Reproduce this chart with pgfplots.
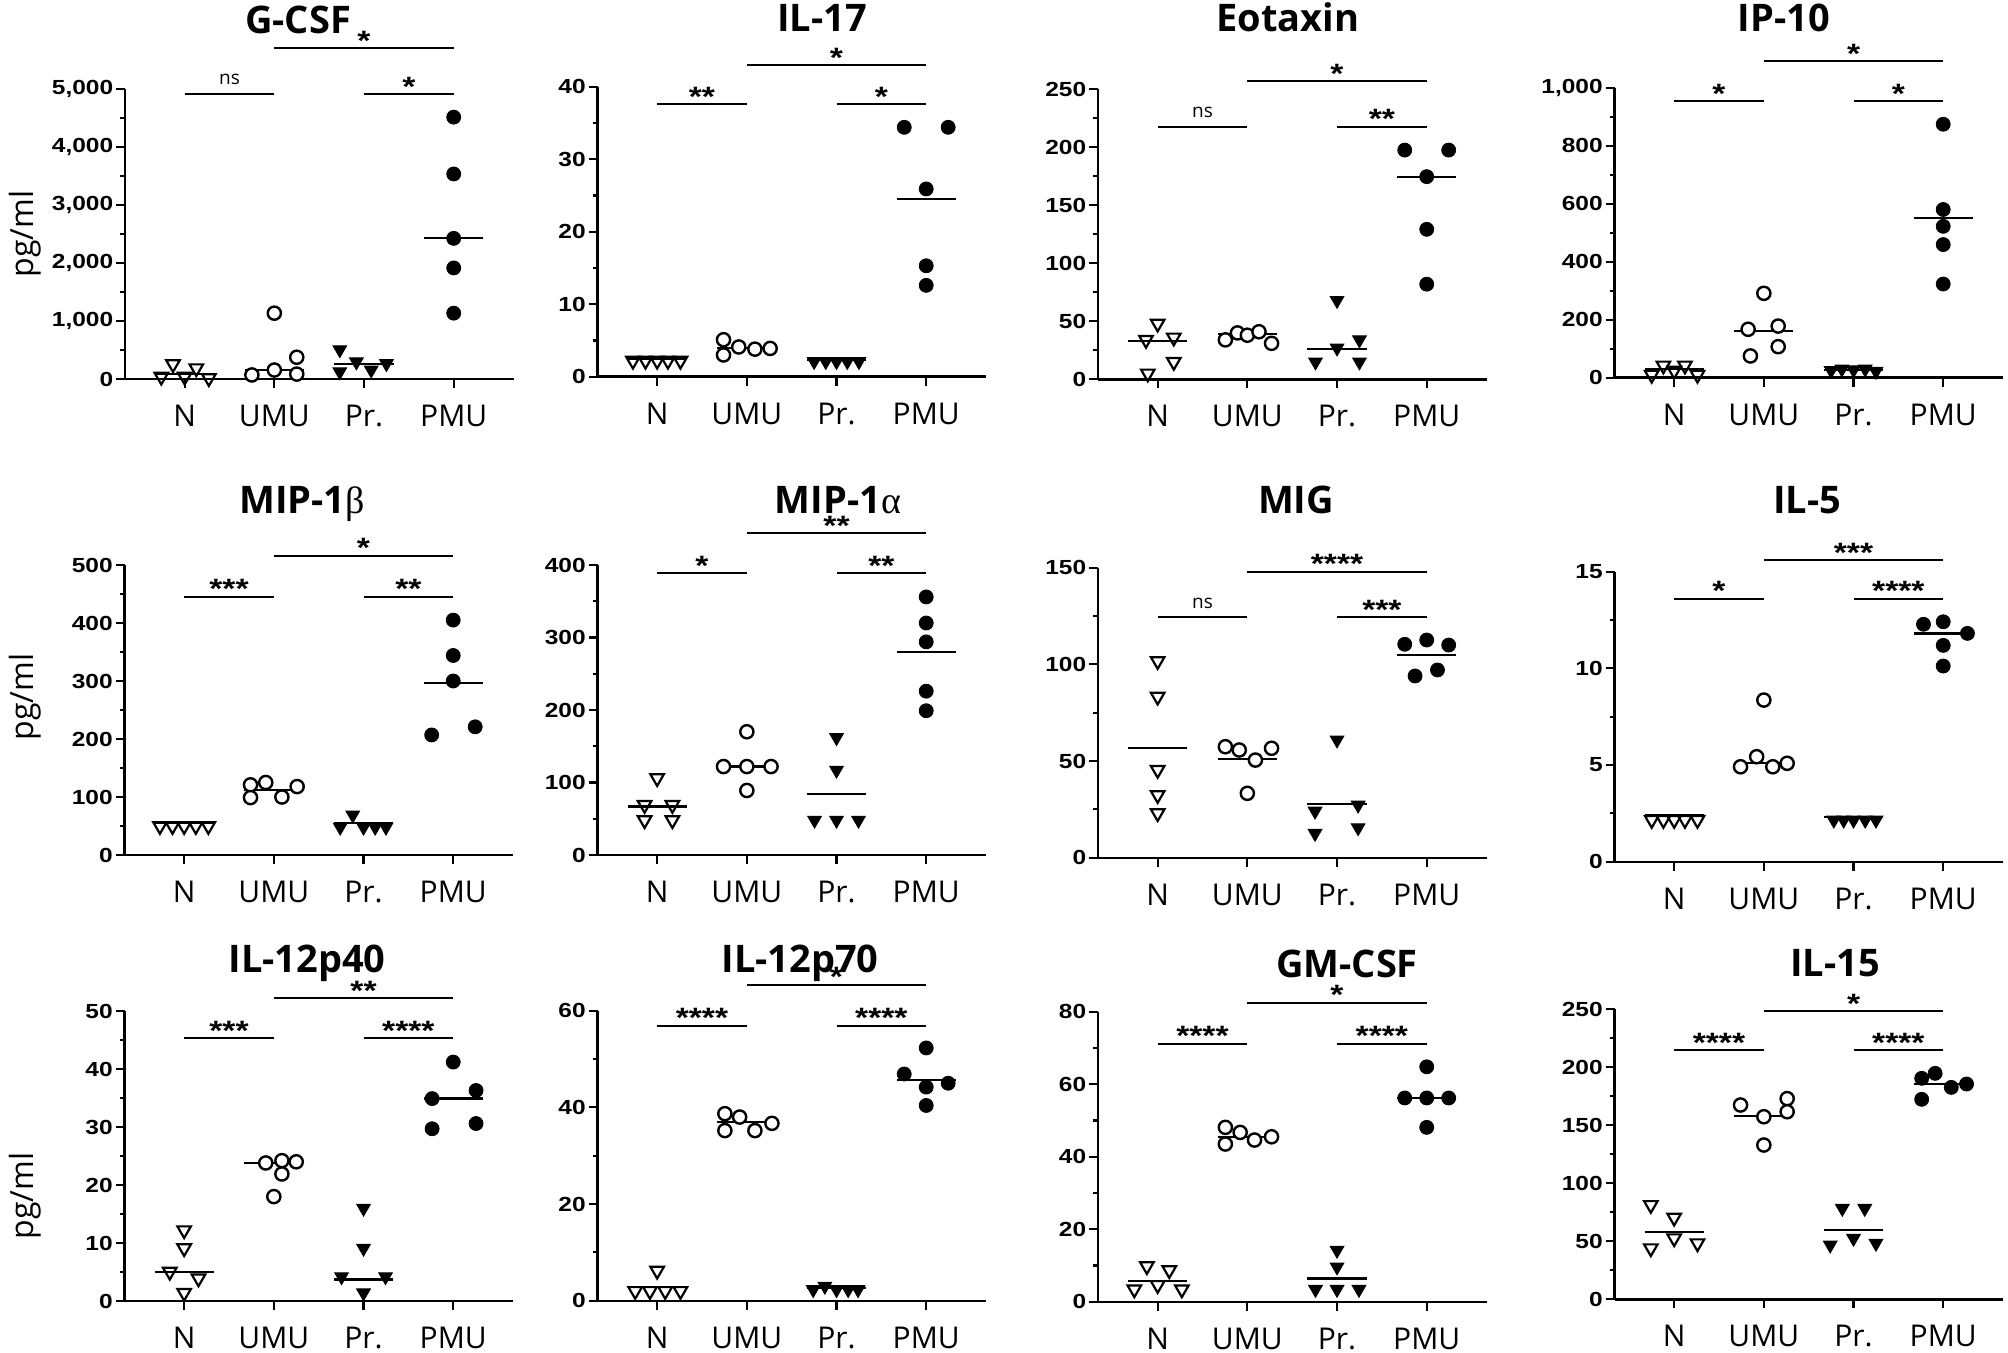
\documentclass[border=0pt]{standalone}
\usepackage{fontspec}
\setmainfont{Open Sans}
\newfontfamily\tickfont{Liberation Sans}[FakeStretch=1.2]
\newfontfamily\greekfont{Liberation Serif}
\usepackage{pgfplots}
\pgfplotsset{compat=1.18}

\pgfplotsset{
  panel/.style={
    anchor=south west, scale only axis, width=194.4pt, height=145pt,
    xmin=0.335, xmax=4.67, ymin=0, enlargelimits=false,
    axis lines=left, axis line style={line width=1.2pt, -},
    tick align=outside, tick style={black, line width=1.1pt},
    major tick length=4.5pt, minor tick length=2.5pt,
    xtick={1,2,3,4}, xticklabels={N,UMU,Pr.,PMU},
    xticklabel style={font=\fontsize{15}{15}\selectfont, anchor=base, yshift=-19.3pt},
    minor y tick num=1,
    yticklabel style={font=\tickfont\bfseries\fontsize{10.2}{10}\selectfont, inner sep=1.2pt},
    /pgf/number format/assume math mode=true,
    scaled y ticks=false,
    clip=false,
  },
  gN/.style={only marks, mark=triangle, mark size=3.9pt, mark options={rotate=180, fill=white, draw=black, line width=1.1pt}},
  gU/.style={only marks, mark=*, mark size=3.3pt, mark options={fill=white, draw=black, line width=1.2pt}},
  gP/.style={only marks, mark=triangle*, mark size=3.9pt, mark options={rotate=180, fill=black, draw=black, line width=0.5pt}},
  gM/.style={only marks, mark=*, mark size=3.5pt, mark options={fill=black, draw=black}},
  med/.style={no marks, black, line width=1.1pt},
}

\newcommand{\meds}[4]{%
  \addplot[med] coordinates {(0.67,#1) (1.33,#1)};
  \addplot[med] coordinates {(1.67,#2) (2.33,#2)};
  \addplot[med] coordinates {(2.67,#3) (3.33,#3)};
  \addplot[med] coordinates {(3.67,#4) (4.33,#4)};}
\newcommand{\sig}[4]{\draw[line width=1pt] (axis cs:#1,#3) -- (axis cs:#2,#3) node[midway, anchor=base, inner sep=0pt, yshift=-1pt, font=\tickfont\bfseries\fontsize{14}{14}\selectfont] {#4};}
\newcommand{\ns}[3]{\draw[line width=1pt] (axis cs:#1,#3) -- (axis cs:#2,#3) node[midway, anchor=base, inner sep=0pt, yshift=4.5pt, font=\fontsize{9.5}{9.5}\selectfont] {ns};}

\begin{document}
\begin{tikzpicture}
\useasboundingbox (0,0) rectangle (1004pt,-676.5pt);

% ---------- Row 1 ----------
\begin{axis}[panel, at={(62.5pt,-189.65pt)}, ymax=5000, ytick={0,1000,...,5000}]
\addplot[gN] coordinates {(0.74,45) (0.87,260) (1.0,45) (1.13,190) (1.27,20)};
\addplot[gU] coordinates {(1.75,75) (2,160) (2,1140) (2.25,90) (2.25,380)};
\addplot[gP] coordinates {(2.73,510) (2.73,130) (2.915,300) (3.08,160) (3.25,270)};
\addplot[gM] coordinates {(4,4520) (4,3540) (4,2430) (4,1920) (4,1140)};
\meds{90}{160}{270}{2440}
\ns{1}{2}{4919}
\sig{3}{4}{4919}{*}
\sig{2}{4}{5712}{*}
\end{axis}

\begin{axis}[panel, at={(298.75pt,-188.35pt)}, ymax=40, ytick={0,10,...,40}]
\addplot[gN] coordinates {(0.73,2.2) (0.87,2.2) (1,2.2) (1.12,2.2) (1.26,2.2)};
\addplot[gU] coordinates {(1.74,5.1) (1.74,3.0) (1.91,4.1) (2.09,3.8) (2.26,3.9)};
\addplot[gP] coordinates {(2.75,2.1) (2.88,2.1) (3,2.1) (3.12,2.1) (3.25,2.1)};
\addplot[gM] coordinates {(3.755,34.4) (4.245,34.4) (4,25.9) (4,15.3) (4,12.6)};
\meds{2.5}{3.95}{2.3}{24.5}
\sig{1}{2}{37.57}{**}
\sig{3}{4}{37.57}{*}
\sig{2}{4}{42.98}{*}
\end{axis}

\begin{axis}[panel, at={(549pt,-189.65pt)}, ymax=250, ytick={0,50,...,250}]
\addplot[gN] coordinates {(1.0,48) (0.87,34) (1.18,36) (1.18,15) (0.89,5)};
\addplot[gU] coordinates {(1.755,34) (1.89,40) (2,38) (2.13,41) (2.27,31)};
\addplot[gP] coordinates {(3,68) (3,27) (2.76,15) (3.25,34) (3.25,15)};
\addplot[gM] coordinates {(3.755,197.6) (4.245,197.6) (4,174.7) (4,129.3) (4,82)};
\meds{33}{39}{26}{174.7}
\ns{1}{2}{217.7}
\sig{3}{4}{217.7}{**}
\sig{2}{4}{257.1}{*}
\end{axis}

\begin{axis}[panel, at={(807.25pt,-188.85pt)}, ymax=1000, ytick={0,200,...,1000}]
\addplot[gN] coordinates {(0.75,10) (0.88,42) (1,24) (1.12,42) (1.26,10)};
\addplot[gU] coordinates {(2,291) (1.825,167) (2.16,178) (2.16,107) (1.85,75)};
\addplot[gP] coordinates {(2.75,25) (2.87,30) (3,27) (3.13,30) (3.25,22)};
\addplot[gM] coordinates {(4,874) (4,580) (4,522) (4,459) (4,323)};
\meds{29}{162}{27}{551}
\sig{1}{2}{954}{*}
\sig{3}{4}{954}{*}
\sig{2}{4}{1092}{*}
\end{axis}

% ---------- Row 2 ----------
\begin{axis}[panel, at={(62.25pt,-427.5pt)}, ymax=500, ytick={0,100,...,500}]
\addplot[gN] coordinates {(0.73,50) (0.87,50) (1,50) (1.13,50) (1.27,50)};
\addplot[gU] coordinates {(1.74,121) (1.91,125) (1.74,99) (2.09,100) (2.26,118)};
\addplot[gP] coordinates {(2.88,69) (2.74,48) (3.0,48) (3.13,48) (3.25,48)};
\addplot[gM] coordinates {(4,405) (4,344) (4,300) (3.76,207) (4.245,221)};
\meds{56}{112}{55}{297}
\sig{1}{2}{445.3}{***}
\sig{3}{4}{445.3}{**}
\sig{2}{4}{516}{*}
\end{axis}

\begin{axis}[panel, at={(298.75pt,-427.5pt)}, ymax=400, ytick={0,100,...,400}]
\addplot[gN] coordinates {(1,106) (0.86,69) (1.17,69) (0.86,48) (1.17,48)};
\addplot[gU] coordinates {(2,170) (1.74,122) (2,122) (2.27,122) (2,89)};
\addplot[gP] coordinates {(3,162) (3,117) (2.755,48) (3,48) (3.245,48)};
\addplot[gM] coordinates {(4,356) (4,320) (4,294) (4,226) (4,199)};
\meds{67}{122}{84}{280}
\sig{1}{2}{388.5}{*}
\sig{3}{4}{388.5}{**}
\sig{2}{4}{443.6}{**}
\end{axis}

\begin{axis}[panel, at={(549pt,-428.85pt)}, ymax=150, ytick={0,50,...,150}]
\addplot[gN] coordinates {(1,101.7) (1,83.3) (1,45.4) (1,32.4) (1,23)};
\addplot[gU] coordinates {(1.755,57.4) (1.91,55.7) (2.09,50.5) (2.27,56.6) (2,33.3)};
\addplot[gP] coordinates {(3,60.9) (2.755,24.1) (3.235,27.2) (2.755,12.6) (3.235,15.5)};
\addplot[gM] coordinates {(3.755,110.4) (4,112.6) (4.245,110) (3.87,94) (4.12,97.1)};
\meds{56.6}{51}{27.6}{104.8}
\ns{1}{2}{124.5}
\sig{3}{4}{124.5}{***}
\sig{2}{4}{147.9}{****}
\end{axis}

\begin{axis}[panel, at={(807.25pt,-430.85pt)}, ymax=15, ytick={0,5,10,15}]
\addplot[gN] coordinates {(0.75,2.16) (0.88,2.16) (1,2.16) (1.12,2.16) (1.26,2.16)};
\addplot[gU] coordinates {(2,8.36) (1.74,4.91) (1.92,5.43) (2.1,4.91) (2.26,5.09)};
\addplot[gP] coordinates {(2.78,2.15) (2.89,2.15) (3,2.15) (3.13,2.15) (3.25,2.15)};
\addplot[gM] coordinates {(3.78,12.28) (4,12.41) (4.27,11.81) (4,11.19) (4,10.12)};
\meds{2.4}{5.1}{2.3}{11.8}
\sig{1}{2}{13.59}{*}
\sig{3}{4}{13.59}{****}
\sig{2}{4}{15.6}{***}
\end{axis}

% ---------- Row 3 ----------
\begin{axis}[panel, at={(62.25pt,-650.5pt)}, ymax=50, ytick={0,10,...,50}]
\addplot[gN] coordinates {(1,12.2) (1,9.1) (0.84,5.05) (1.16,3.9) (1,1.4)};
\addplot[gU] coordinates {(1.91,23.8) (2.09,24.2) (2.25,24.0) (2.09,21.9) (2,18.0)};
\addplot[gP] coordinates {(3,16) (3,9.1) (2.755,4.2) (3.245,4.2) (3,1.4)};
\addplot[gM] coordinates {(4,41.2) (3.765,34.9) (4.255,36.3) (3.765,29.7) (4.255,30.6)};
\meds{5.05}{23.8}{3.7}{34.9}
\sig{1}{2}{45.34}{***}
\sig{3}{4}{45.34}{****}
\sig{2}{4}{52.23}{**}
\end{axis}

\begin{axis}[panel, at={(298.75pt,-650.35pt)}, ymax=60, ytick={0,20,...,60}]
\addplot[gN] coordinates {(1,6.2) (0.755,2.0) (0.92,2.0) (1.09,2.0) (1.26,2.0)};
\addplot[gU] coordinates {(1.755,38.7) (1.92,38.0) (1.755,35.2) (2.09,35.2) (2.28,36.7)};
\addplot[gP] coordinates {(2.74,2.3) (2.87,3.0) (3,2.3) (3.13,2.3) (3.24,2.3)};
\addplot[gM] coordinates {(4,52.3) (3.755,46.9) (4.245,45.0) (4,44.2) (4,40.4)};
\meds{2.9}{36.9}{2.6}{45.7}
\sig{1}{2}{56.9}{****}
\sig{3}{4}{56.9}{****}
\sig{2}{4}{65.4}{*}
\end{axis}

\begin{axis}[panel, at={(549pt,-650.85pt)}, ymax=80, ytick={0,20,...,80}]
\addplot[gN] coordinates {(0.88,9.8) (1.13,8.7) (0.74,3.4) (1.0,4.6) (1.27,3.4)};
\addplot[gU] coordinates {(1.755,48.1) (1.92,46.7) (1.755,43.5) (2.08,44.6) (2.27,45.5)};
\addplot[gP] coordinates {(3,14.2) (3,9.6) (2.76,3.4) (3,3.4) (3.245,3.4)};
\addplot[gM] coordinates {(4,64.8) (3.755,56.2) (4,56.2) (4.245,56.2) (4,48.1)};
\meds{5.8}{45.5}{6.4}{56.2}
\sig{1}{2}{71.2}{****}
\sig{3}{4}{71.2}{****}
\sig{2}{4}{82.5}{*}
\end{axis}

\begin{axis}[panel, at={(807.25pt,-649.65pt)}, ymax=250, ytick={0,50,...,250}]
\addplot[gN] coordinates {(0.74,81.3) (1.0,70.4) (1.0,52.6) (0.74,44.0) (1.26,48.3)};
\addplot[gU] coordinates {(1.74,167.5) (2.26,173) (2,157.4) (2.26,161.7) (2,133)};
\addplot[gP] coordinates {(2.875,78.4) (3.125,78.4) (2.74,46.8) (3,52.6) (3.25,48.3)};
\addplot[gM] coordinates {(3.76,190.5) (3.91,194.8) (3.76,172.4) (4.09,182.7) (4.26,185.6)};
\meds{58.3}{158}{59.7}{185.6}
\sig{1}{2}{214.9}{****}
\sig{3}{4}{214.9}{****}
\sig{2}{4}{248.5}{*}
\end{axis}

% ---------- Titles and y labels ----------
\begin{scope}[x=0.5pt, y=-0.5pt]
\tikzset{ttl/.style={anchor=base, inner sep=0pt, font=\bfseries\fontsize{19}{19}\selectfont},
         yl/.style={rotate=90, anchor=center, inner sep=0pt, font=\fontsize{16}{16}\selectfont}}
\node[ttl] at (298,33.5) {G-CSF};
\node[ttl] at (822,31.5) {IL-17};
\node[ttl] at (1288,31.5) {Eotaxin};
\node[ttl] at (1784,31.5) {IP-10};
\node[ttl] at (302,513.5) {MIP-1{\greekfont\mdseries β}};
\node[ttl] at (838,513.5) {MIP-1{\greekfont\mdseries α}};
\node[ttl] at (1296,513.5) {MIG};
\node[ttl] at (1807,513.5) {IL-5};
\node[ttl] at (307,972.5) {IL-12p40};
\node[ttl] at (800,972.5) {IL-12p70};
\node[ttl] at (1347,977.5) {GM-CSF};
\node[ttl] at (1835,976.5) {IL-15};
\node[yl] at (25,234) {pg/ml};
\node[yl] at (25,697) {pg/ml};
\node[yl] at (25,1196) {pg/ml};
\end{scope}
\end{tikzpicture}
\end{document}
